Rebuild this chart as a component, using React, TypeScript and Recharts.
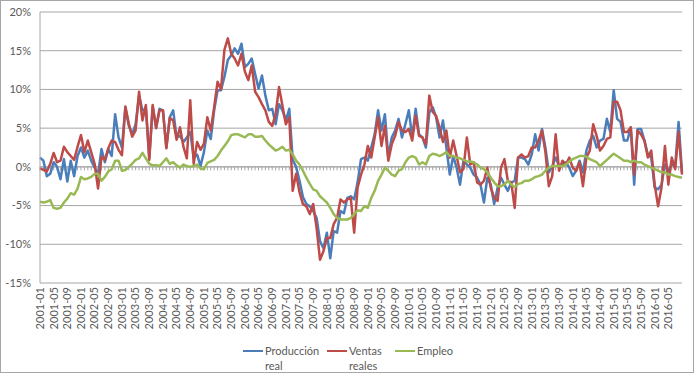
import React from "react";
import {
  LineChart,
  Line,
  XAxis,
  YAxis,
  CartesianGrid,
  ReferenceLine,
  Legend,
} from "recharts";

const FONT = "Lato, 'Liberation Sans', sans-serif";
const TEXT = "#595959";
const GRID = "#a6a6a6";

// monthly categories 2001-01 .. 2016-09
const months: string[] = [];
for (let y = 2001; y <= 2016; y++) {
  for (let m = 1; m <= 12; m++) {
    if (y === 2016 && m > 9) break;
    months.push(`${y}-${String(m).padStart(2, "0")}`);
  }
}

// every 4th month is labelled, last label 2016-05
const tickLabels = months.filter((_, i) => i % 4 === 0 && i <= 184);
const yTicks = [-15, -10, -5, 0, 5, 10, 15, 20];

// % interanual, one row per year
const produccion = [
  1.2, 0.8, -1.2, -0.9, 0.6, 0.0, -1.6, 1.0, -1.9, 0.8, -1.2, 1.4,
  2.5, 1.2, 2.1, 0.8, -0.1, -1.0, 2.3, 0.6, 2.3, 1.4, 6.8, 3.8,
  2.5, 7.7, 5.3, 4.2, 5.5, 9.2, 7.3, 7.5, 1.2, 7.7, 5.1, 7.5,
  7.3, 2.5, 6.4, 7.3, 3.8, 4.0, 3.2, 3.8, 4.5, 1.2, 1.6, 0.1,
  1.9, 4.7, 3.6, 7.3, 9.9, 9.9, 11.6, 13.8, 14.4, 15.3, 14.6, 15.9,
  12.9, 13.3, 14.0, 12.0, 10.1, 11.8, 9.2, 7.3, 7.5, 5.5, 8.1, 7.3,
  6.0, 7.5, 0.9, 0.0, -1.8, -3.9, -4.8, -5.1, -5.7, -6.6, -9.6, -10.5,
  -8.5, -11.8, -8.3, -8.5, -5.7, -6.0, -4.0, -3.8, -4.2, -2.0, 1.0, 1.2,
  0.8, 2.5, 4.2, 7.3, 4.7, 6.8, 1.2, 3.8, 4.7, 6.2, 3.8, 5.5,
  7.3, 3.8, 7.5, 4.2, 3.8, 2.5, 7.0, 7.7, 6.4, 3.8, 6.0, 2.5,
  -1.0, 1.4, -0.1, -2.3, 0.8, 0.3, -0.1, -1.0, -1.4, -2.3, -4.6, -1.4,
  -2.3, -4.8, -2.7, -1.4, -2.3, -3.1, -2.0, -1.8, 1.2, 1.2, 1.0, 0.3,
  1.6, 4.2, 2.1, 4.9, 2.5, -0.7, 0.1, 1.2, 0.1, 0.3, 0.6, -0.1,
  -1.2, -0.5, 0.8, -0.7, 2.1, 3.4, 4.0, 2.5, 3.4, 3.6, 6.2, 4.5,
  9.9, 6.2, 5.8, 3.4, 3.4, 5.1, -2.3, 4.9, 4.9, 3.4, 1.6, 1.2,
  -2.7, -2.9, -2.3, 0.3, -0.5, 0.3, 0.1, 5.8, -0.7,
];

const ventas = [
  -0.2, -0.4, -0.6, 0.4, 1.8, 0.6, 0.8, 2.6, 1.9, 1.4, 0.9, 2.6,
  4.1, 1.9, 3.4, 1.9, 0.4, -2.8, 1.3, 0.9, 2.4, 3.4, 3.2, 2.2,
  1.5, 7.8, 5.6, 3.9, 4.7, 9.7, 6.0, 8.0, 0.9, 8.0, 5.0, 7.3,
  7.3, 2.4, 6.3, 6.0, 3.5, 5.1, 2.6, 1.1, 8.6, 0.4, 3.2, 2.2,
  3.0, 6.4, 4.7, 7.7, 11.0, 10.0, 15.1, 16.6, 14.6, 14.0, 13.1, 14.6,
  12.3, 11.2, 13.1, 9.7, 9.0, 8.1, 7.3, 5.8, 5.3, 6.8, 10.3, 7.9,
  5.5, 6.4, -3.1, -0.9, -3.3, -4.8, -5.1, -6.1, -4.8, -7.9, -12.0, -10.9,
  -9.2, -9.2, -7.4, -6.6, -4.2, -4.6, -4.2, -4.0, -8.5, -2.7, -1.0, 0.3,
  2.7, 1.2, 3.8, 6.4, 2.7, 5.3, 0.8, 2.9, 4.0, 5.8, 4.7, 4.5,
  4.9, 3.4, 6.6, 4.0, 3.8, 2.9, 9.2, 7.1, 6.6, 5.1, 3.2, 4.7,
  1.2, 3.4, 1.4, -0.7, -0.3, 3.8, 0.3, 0.6, -2.0, -2.3, -1.8, -0.1,
  -2.7, -4.0, -4.4, -0.1, 1.0, -1.8, -2.0, -5.3, 1.2, 1.6, 1.2, 1.4,
  2.5, 2.5, 3.4, 4.7, 1.9, -2.5, -1.2, 4.2, -0.5, 0.8, 0.3, 1.2,
  -0.1, -0.5, 0.6, -2.5, 1.2, 2.1, 5.5, 4.0, 2.1, 2.7, 3.6, 3.8,
  8.4, 8.4, 7.3, 4.5, 4.5, 5.1, -1.0, 4.7, 4.2, 3.4, 1.2, 2.1,
  -2.3, -5.1, -2.7, 2.7, -2.3, 1.2, -0.3, 4.5, -1.0,
];

const empleo = [
  -4.5, -4.6, -4.5, -4.3, -5.3, -5.4, -5.3, -4.6, -4.1, -3.4, -3.6, -2.8,
  -1.3, -1.6, -1.5, -1.3, -0.9, -0.9, -1.8, -1.3, -0.6, -0.3, 0.8, 0.8,
  -0.5, -0.4, 0.0, 0.4, 0.9, 1.1, 1.8, 1.1, 0.4, 0.2, 0.2, 0.1,
  0.6, 1.1, 0.4, 0.6, 0.2, -0.1, 0.3, 0.1, 0.0, 0.1, 0.3, -0.2,
  -0.3, 0.5, 0.7, 0.9, 1.4, 2.1, 2.7, 3.3, 4.1, 4.2, 4.2, 4.0,
  3.8, 4.2, 4.2, 3.9, 3.9, 4.0, 3.4, 2.9, 2.5, 2.1, 2.3, 2.6,
  2.1, 2.2, 1.6, 0.8, 0.3, -0.5, -1.4, -2.2, -2.9, -3.1, -3.8, -4.2,
  -4.6, -5.3, -6.1, -6.6, -6.8, -6.8, -6.8, -6.6, -6.1, -5.6, -5.7, -5.1,
  -5.3, -4.0, -3.1, -1.8, -1.0, -0.1, -0.5, -1.0, -1.2, -0.5, -0.3, 0.6,
  1.2, 1.4, 1.2, 0.3, 0.6, 0.3, 1.4, 1.7, 1.6, 1.4, 1.6, 1.9,
  1.4, 1.4, 1.2, 1.1, 0.9, 0.7, 0.7, 0.6, 0.3, -0.1, -0.3, -0.7,
  -1.4, -2.0, -2.5, -2.5, -2.3, -1.8, -2.3, -2.6, -2.2, -2.1, -1.8, -1.8,
  -1.6, -1.3, -1.2, -1.0, -0.5, -0.1, 0.1, 0.1, 0.1, 0.1, 0.3, 0.7,
  1.0, 1.2, 1.4, 1.4, 1.3, 1.0, 0.8, 0.6, 0.1, 0.5, 0.9, 1.3,
  1.7, 1.4, 1.1, 0.8, 0.8, 0.6, 0.8, 0.6, 0.6, 0.3, 0.1, -0.1,
  -0.3, -0.5, -0.7, -0.7, -1.0, -1.0, -1.2, -1.3, -1.4,
];

const series = [
  { key: "produccion", name: "Producción real", color: "#4A7EBB" },
  { key: "ventas", name: "Ventas reales", color: "#BE4B48" },
  { key: "empleo", name: "Empleo", color: "#98B954" },
];

const data = months.map((month, i) => ({
  month,
  produccion: produccion[i],
  ventas: ventas[i],
  empleo: empleo[i],
}));

// legend layout (px from chart left)
const legendLeft = [243, 327, 395];
const legendTextWidth = [60, 42, 60];

function MonthTick(props: any) {
  const { x, y, payload } = props;
  return (
    <text
      x={x}
      y={y}
      transform={`rotate(-90, ${x}, ${y})`}
      textAnchor="end"
      dy="0.35em"
      fill={TEXT}
      fontSize={11}
      fontFamily={FONT}
    >
      {payload.value}
    </text>
  );
}

function LegendContent() {
  return (
    <div style={{ position: "relative", height: 32, fontFamily: FONT }}>
      {series.map((s, i) => (
        <div
          key={s.key}
          style={{
            position: "absolute",
            left: legendLeft[i],
            top: 0,
            display: "flex",
            alignItems: "flex-start",
          }}
        >
          <div
            style={{
              width: 20,
              height: 2.5,
              marginTop: 6.5,
              marginRight: 2,
              background: s.color,
            }}
          />
          <div
            style={{
              width: legendTextWidth[i],
              fontSize: 11,
              lineHeight: "15px",
              color: TEXT,
              textAlign: "left",
            }}
          >
            {s.name}
          </div>
        </div>
      ))}
    </div>
  );
}

export default function App() {
  return (
    <div
      style={{
        position: "absolute",
        left: 0,
        top: 0,
        width: 694,
        height: 373,
        background: "#fff",
        fontFamily: FONT,
      }}
    >
      <LineChart
        width={694}
        height={373}
        data={data}
        margin={{ top: 12, right: 12, bottom: 0, left: 0 }}
      >
        <CartesianGrid vertical={false} stroke={GRID} />
        <XAxis
          dataKey="month"
          ticks={tickLabels}
          interval={0}
          height={90}
          tickSize={0}
          tickMargin={4}
          axisLine={false}
          tickLine={false}
          tick={MonthTick}
        />
        <YAxis
          domain={[-15, 20]}
          ticks={yTicks}
          interval={0}
          width={40}
          tickFormatter={(v: number) => `${v}%`}
          axisLine={{ stroke: GRID }}
          tickLine={false}
          tickMargin={3}
          tick={{ fill: TEXT, fontSize: 11, fontFamily: FONT }}
        />
        <ReferenceLine y={0} stroke={GRID} />
        {months.map((m) => (
          <ReferenceLine
            key={m}
            segment={[
              { x: m, y: 0 },
              { x: m, y: -0.45 },
            ]}
            stroke={GRID}
          />
        ))}
        {series.map((s) => (
          <Line
            key={s.key}
            type="linear"
            dataKey={s.key}
            name={s.name}
            stroke={s.color}
            strokeWidth={2.5}
            dot={false}
            strokeLinejoin="round"
            isAnimationActive={false}
          />
        ))}
        <Legend
          layout="horizontal"
          verticalAlign="middle"
          wrapperStyle={{ top: 343, left: 0, width: 694 }}
          content={LegendContent}
        />
      </LineChart>
      <div
        style={{
          position: "absolute",
          left: 0,
          top: 0,
          width: 694,
          height: 373,
          boxSizing: "border-box",
          border: "1px solid #a6a6a6",
          pointerEvents: "none",
        }}
      />
    </div>
  );
}
